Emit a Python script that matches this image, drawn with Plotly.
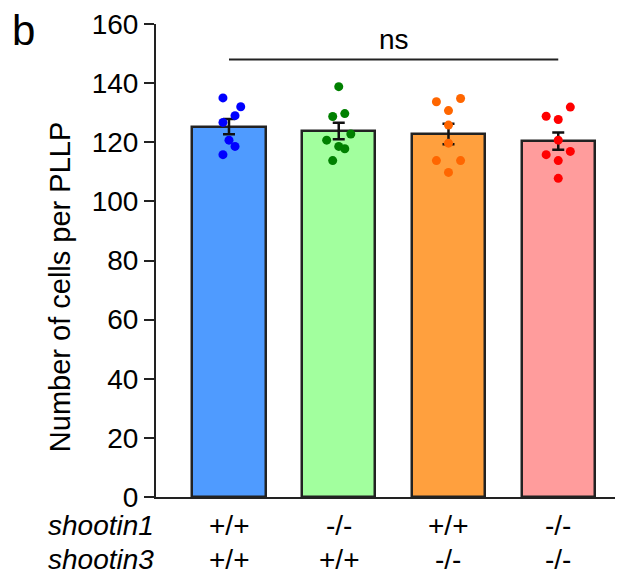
import plotly.graph_objects as go

# ---- data ----
groups = ["WT", "s1-/-", "s3-/-", "dKO"]
shootin1 = ["+/+", "-/-", "+/+", "-/-"]
shootin3 = ["+/+", "+/+", "-/-", "-/-"]
means = [125.3, 123.8, 122.8, 120.4]
sems = [2.6, 2.8, 3.5, 2.9]

pts_wt = [135.0, 132.0, 129.0, 126.7, 120.7, 118.6, 115.8]
pts_s1 = [138.8, 128.7, 129.7, 122.8, 120.7, 118.6, 117.8, 113.8]
pts_s3 = [133.7, 134.8, 130.7, 125.8, 119.7, 113.8, 113.8, 109.8]
pts_dko = [128.8, 127.7, 131.9, 120.7, 115.8, 116.9, 113.8, 107.8]

jit_wt = [-0.055, 0.107, 0.055, -0.055, 0.0, 0.055, -0.055]
jit_s1 = [0.0, -0.055, 0.055, 0.11, -0.11, 0.0, 0.055, -0.055]
jit_s3 = [-0.11, 0.11, 0.0, 0.0, 0.0, -0.11, 0.11, 0.0]
jit_dko = [-0.11, 0.0, 0.11, 0.0, -0.11, 0.11, 0.0, 0.0]

ns_label = "ns"
ns_level = 148.0
y_ticks = [0, 20, 40, 60, 80, 100, 120, 140, 160]
y_title = "Number of cells per PLLP"

# ---- style ----
bar_colors = ["#4F9BFF", "#A2FF9E", "#FFA03E", "#FF9C9C"]
dot_colors = ["#0000FF", "#008000", "#FF6600", "#FF0000"]
FONT = "Liberation Sans, Arial, sans-serif"

# page body adds an 8px offset; figure laid out in page pixels minus 8
OFF = 8
W, H = 615, 568
ML, MT = 148, 16
PLOT_BOTTOM = 488.7
PW = W - ML
PH = PLOT_BOTTOM - MT

def px_to_paper(px, py):
    return (px - OFF - ML) / PW, (PLOT_BOTTOM - (py - OFF)) / PH

xpos = list(range(len(groups)))
fig = go.Figure()
fig.add_trace(go.Bar(
    x=xpos, y=means, width=0.667,
    marker=dict(color=bar_colors, line=dict(color="#222222", width=2.5)),
    error_y=dict(type="data", array=sems, visible=True, color="#111111",
                 thickness=2.5, width=6),
    showlegend=False,
))

all_pts = [pts_wt, pts_s1, pts_s3, pts_dko]
all_jit = [jit_wt, jit_s1, jit_s3, jit_dko]
for i, (pts, jit) in enumerate(zip(all_pts, all_jit)):
    fig.add_trace(go.Scatter(
        x=[i + j for j in jit], y=pts, mode="markers",
        marker=dict(color=dot_colors[i], size=9, line=dict(width=0)),
        showlegend=False, cliponaxis=False,
    ))

# ns line
fig.add_trace(go.Scatter(
    x=[xpos[0], xpos[-1]], y=[ns_level, ns_level], mode="lines",
    line=dict(color="#222222", width=2), showlegend=False,
))

bx, by = px_to_paper(23, 30)
tx, ty = px_to_paper(60, 287)
annotations = [
    dict(x=(xpos[0] + xpos[-1]) / 2, y=ns_level, xref="x", yref="y",
         text=ns_label, showarrow=False, yanchor="bottom", yshift=2,
         font=dict(size=28, color="black", family=FONT)),
    dict(x=bx, y=by, xref="paper", yref="paper", text="b", showarrow=False,
         xanchor="center", yanchor="middle",
         font=dict(size=42, color="black", family=FONT)),
    dict(x=tx, y=ty, xref="paper", yref="paper", text=y_title, showarrow=False,
         textangle=-90, xanchor="center", yanchor="middle",
         font=dict(size=29, color="black", family=FONT)),
]
_, r1 = px_to_paper(0, 525)
_, r2 = px_to_paper(0, 559.5)
for ry, name, vals in [(r1, "shootin1", shootin1), (r2, "shootin3", shootin3)]:
    annotations.append(dict(x=0, y=ry, xref="paper", yref="paper", text=f"<i>{name}</i>",
                            showarrow=False, xanchor="right", yanchor="middle",
                            font=dict(size=28, color="black", family=FONT)))
    for i, v in enumerate(vals):
        annotations.append(dict(x=xpos[i], y=ry, xref="x", yref="paper", text=v,
                                showarrow=False, xanchor="center", yanchor="middle",
                                font=dict(size=28, color="black", family=FONT)))

fig.update_layout(
    width=W, height=H,
    margin=dict(l=ML, r=0, t=MT, b=H - PLOT_BOTTOM, autoexpand=False),
    plot_bgcolor="white", paper_bgcolor="white",
    font=dict(family=FONT, size=28, color="black"),
    annotations=annotations,
    bargap=0,
)
fig.update_xaxes(range=[-0.665, 3.59], showticklabels=False, ticks="",
                 showline=True, linecolor="#222222", linewidth=2,
                 showgrid=False, zeroline=False)
fig.update_yaxes(range=[0, 160], tickvals=y_ticks, ticks="outside", ticklen=10,
                 tickwidth=2, tickcolor="#222222", showline=True,
                 linecolor="#222222", linewidth=2, showgrid=False, zeroline=False,
                 tickfont=dict(size=28, family=FONT, color="black"))

fig.write_html("out.html")
